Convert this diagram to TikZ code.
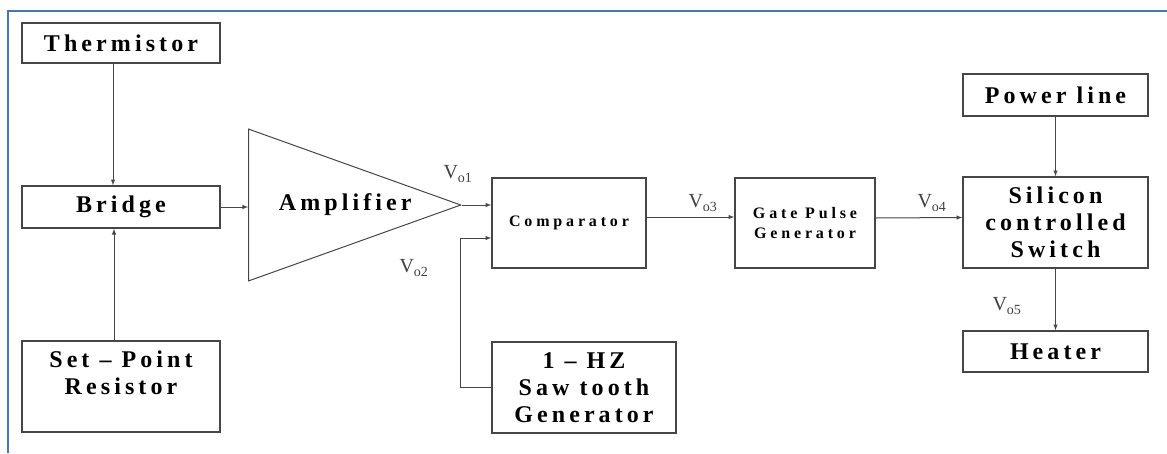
\documentclass[tikz,border=0pt]{standalone}
\usepackage{fontspec}
\setmainfont{Liberation Serif}
\newfontfamily\spacedbf[LetterSpace=17]{Liberation Serif}
\newfontfamily\spacedsm[LetterSpace=24]{Liberation Serif}
\usetikzlibrary{shapes.geometric}
\definecolor{framblue}{RGB}{72,118,178}
\definecolor{linegray}{RGB}{70,70,70}

\begin{document}
\begin{tikzpicture}[x=1pt,y=-1pt]
                \tikzstyle{block}=[draw=linegray,line width=1.4pt,inner sep=0pt,align=center,
                        font=\spacedbf\fontsize{24}{27}\selectfont\bfseries]
                \tikzstyle{smallblock}=[block,font=\spacedsm\fontsize{16}{20}\selectfont\bfseries]
                \tikzstyle{sig}=[->,>=latex,draw=linegray,line width=1pt]
                \tikzstyle{vlabel}=[text=black!75,font=\fontsize{20}{20}\selectfont]
                \useasboundingbox (0,0) rectangle (1167,453);
                \draw[framblue,line width=2.5pt] (8,453) -- (8,11) -- (1167,11);
                % left column
                \node[block,minimum width=198,minimum height=40] (therm) at (121,43) {Thermistor};
                \node[block,minimum width=198,minimum height=42] (bridge) at (121,207) {Bridge};
                \node[block,minimum width=198,minimum height=91] (setpt) at (121,386.5) {Set – Point\\Resistor\\ \mbox{}};
                % amplifier
                \node[draw=linegray,line width=1pt,isosceles triangle,isosceles triangle stretches,
                        minimum width=151,minimum height=212,inner sep=0pt,anchor=apex,
                        font=\spacedbf\fontsize{24}{27}\selectfont\bfseries] (amp) at (462,205) {\hspace*{24pt}Amplifier};
                % middle
                \node[smallblock,minimum width=154,minimum height=90] (comp) at (569,223) {Comparator};
                \node[block,minimum width=184,minimum height=91] (saw) at (584,387.5) {1 – HZ\\Saw tooth\\Generator};
                \node[smallblock,minimum width=140,minimum height=90] (gate) at (805,223) {Gate Pulse\\Generator};
                % right column
                \node[block,minimum width=185,minimum height=42] (power) at (1055.5,95) {Power line};
                \node[block,minimum width=185,minimum height=91] (scs) at (1055.5,222.5) {Silicon\\controlled\\Switch};
                \node[block,minimum width=185,minimum height=41] (heater) at (1055.5,351.5) {Heater};
                % signals
                \draw[sig] ([xshift=-8pt]therm.south) -- ([xshift=-8pt]bridge.north);
                \draw[sig] ([xshift=-7pt]setpt.north) -- ([xshift=-7pt]bridge.south);
                \draw[sig] (bridge.east) -- (bridge.east -| amp.left corner);
                \draw[sig] (amp.apex) -- (amp.apex -| comp.west);
                \draw[sig] (saw.west) -- ++(-31,0) |- ([yshift=-15pt]comp.west);
                \draw[sig] ([yshift=6pt]comp.east) -- ([yshift=6pt]gate.west);
                \draw[sig] ([yshift=5pt]gate.east) -- ([yshift=5pt]scs.west);
                \draw[sig] (power) -- (scs);
                \draw[sig] (scs) -- (heater);
                % voltages
                \node[vlabel] (vo1) at (458,174) {V\textsubscript{o1}};
                \node[vlabel] (vo2) at (414,268) {V\textsubscript{o2}};
                \node[vlabel] (vo3) at (703,203) {V\textsubscript{o3}};
                \node[vlabel] (vo4) at (932,203) {V\textsubscript{o4}};
                \node[vlabel] (vo5) at (1007,306) {V\textsubscript{o5}};
\end{tikzpicture}
\end{document}
